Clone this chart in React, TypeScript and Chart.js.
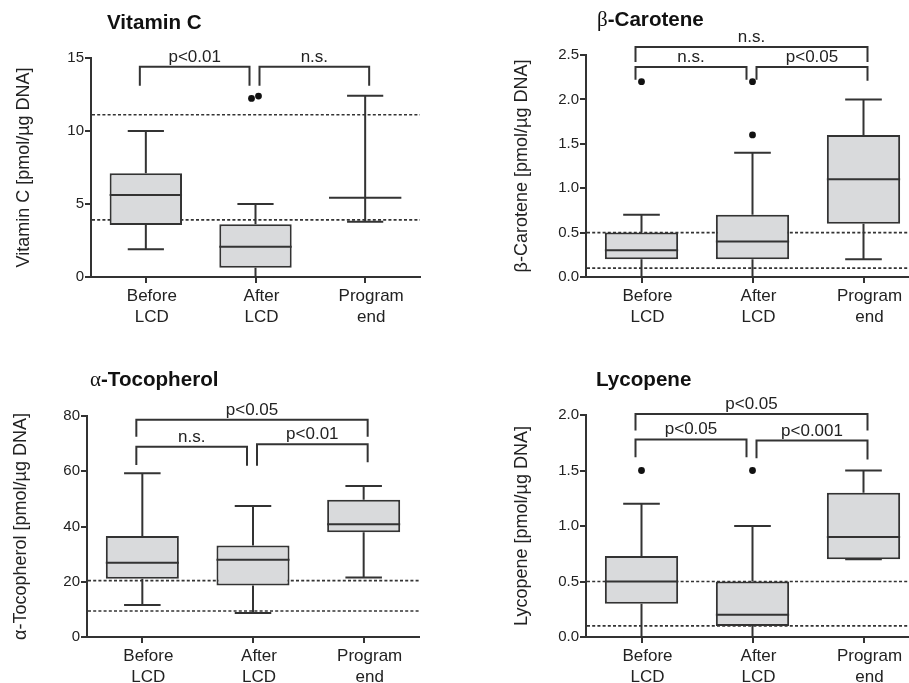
import React, { useEffect, useRef } from "react";
import { Chart, registerables } from "chart.js";

Chart.register(...registerables);

// ---------- data ----------
const categories = [["Before", "LCD"], ["After", "LCD"], ["Program", "end"]];

const titles = ["Vitamin C", "β-Carotene", "α-Tocopherol", "Lycopene"];
const yTitles = [
  "Vitamin C [pmol/µg DNA]",
  "β-Carotene [pmol/µg DNA]",
  "α-Tocopherol [pmol/µg DNA]",
  "Lycopene [pmol/µg DNA]",
];

// Vitamin C
const vitCMin = [1.9, 0, 3.79];
const vitCQ1 = [3.57, 0.64, 5.42];
const vitCMedian = [5.62, 2.08, 5.42];
const vitCQ3 = [7.11, 3.61, 5.42];
const vitCMax = [10.0, 5.0, 12.41];
const vitCOutliers = [[], [12.23, 12.39], []];
const vitCRefLines = [11.11, 3.91];
const vitCTickValues = [0, 5, 10, 15];
const vitCTickLabels = ["0", "5", "10", "15"];
const vitCBrackets = [
  { from: 0, to: 1, top: 14.4, leftEnd: 13.1, rightEnd: 13.1, label: "p<0.01" },
  { from: 1, to: 2, top: 14.4, leftEnd: 13.1, rightEnd: 13.1, label: "n.s." },
];

// beta-Carotene
const betaMin = [0, 0, 0.2];
const betaQ1 = [0.2, 0.2, 0.6];
const betaMedian = [0.3, 0.4, 1.1];
const betaQ3 = [0.5, 0.7, 1.6];
const betaMax = [0.7, 1.4, 2.0];
const betaOutliers = [[2.2], [1.6, 2.2], []];
const betaRefLines = [0.5, 0.1];
const betaTickValues = [0, 0.5, 1.0, 1.5, 2.0, 2.5];
const betaTickLabels = ["0.0", "0.5", "1.0", "1.5", "2.0", "2.5"];
const betaBrackets = [
  { from: 0, to: 2, top: 2.59, leftEnd: 2.42, rightEnd: 2.42, label: "n.s." },
  { from: 0, to: 1, top: 2.365, leftEnd: 2.22, rightEnd: 2.22, label: "n.s." },
  { from: 1, to: 2, top: 2.365, leftEnd: 2.22, rightEnd: 2.21, label: "p<0.05" },
];

// alpha-Tocopherol
const tocoMin = [11.6, 8.7, 21.5];
const tocoQ1 = [21.1, 18.6, 37.9];
const tocoMedian = [26.9, 28.0, 40.8];
const tocoQ3 = [36.6, 33.1, 49.7];
const tocoMax = [59.3, 47.4, 54.7];
const tocoOutliers = [[], [], []];
const tocoRefLines = [20.4, 9.4];
const tocoTickValues = [0, 20, 40, 60, 80];
const tocoTickLabels = ["0", "20", "40", "60", "80"];
const tocoBrackets = [
  { from: 0, to: 2, top: 78.6, leftEnd: 72.5, rightEnd: 72.5, label: "p<0.05" },
  { from: 0, to: 1, top: 68.9, leftEnd: 62.3, rightEnd: 62.0, label: "n.s." },
  { from: 1, to: 2, top: 69.8, leftEnd: 62.0, rightEnd: 63.3, label: "p<0.01" },
];

// Lycopene
const lycoMin = [0, 0, 0.7];
const lycoQ1 = [0.3, 0.1, 0.7];
const lycoMedian = [0.5, 0.2, 0.9];
const lycoQ3 = [0.73, 0.5, 1.3];
const lycoMax = [1.2, 1.0, 1.5];
const lycoOutliers = [[1.5], [1.5], []];
const lycoRefLines = [0.5, 0.1];
const lycoTickValues = [0, 0.5, 1.0, 1.5, 2.0];
const lycoTickLabels = ["0.0", "0.5", "1.0", "1.5", "2.0"];
const lycoBrackets = [
  { from: 0, to: 2, top: 2.01, leftEnd: 1.86, rightEnd: 1.86, label: "p<0.05" },
  { from: 0, to: 1, top: 1.78, leftEnd: 1.62, rightEnd: 1.62, label: "p<0.05" },
  { from: 1, to: 2, top: 1.77, leftEnd: 1.61, rightEnd: 1.6, label: "p<0.001" },
];

// ---------- styling / layout ----------
const SANS = '"Liberation Sans", Arial, Helvetica, sans-serif';
const SERIF = '"Liberation Serif", "Times New Roman", serif';
const LINE = "#333333";
const TEXT = "#222222";
const FILL = "#d9dadc";
const LW = 2;
const Y_TITLE_SIZE = 18;

type Panel = {
  x: number; y: number; w: number; h: number;
  left: number; right: number; top: number; bottom: number;
  yTitleX: number; titleX: number; titleY: number;
};

const layouts: Panel[] = [
  { x: 0, y: 0, w: 454, h: 340, left: 91, right: 420, top: 58, bottom: 277, yTitleX: 24, titleX: 107, titleY: 29 },
  { x: 454, y: 0, w: 470, h: 340, left: 132, right: 465, top: 55, bottom: 277, yTitleX: 68, titleX: 143, titleY: 26 },
  { x: 0, y: 340, w: 454, h: 343, left: 87, right: 419, top: 76, bottom: 297, yTitleX: 21, titleX: 90, titleY: 46 },
  { x: 454, y: 340, w: 470, h: 343, left: 132, right: 465, top: 75, bottom: 297, yTitleX: 68, titleX: 142, titleY: 46 },
];

const panelData = [
  { min: vitCMin, q1: vitCQ1, med: vitCMedian, q3: vitCQ3, max: vitCMax, out: vitCOutliers, refs: vitCRefLines, tv: vitCTickValues, tl: vitCTickLabels, br: vitCBrackets },
  { min: betaMin, q1: betaQ1, med: betaMedian, q3: betaQ3, max: betaMax, out: betaOutliers, refs: betaRefLines, tv: betaTickValues, tl: betaTickLabels, br: betaBrackets },
  { min: tocoMin, q1: tocoQ1, med: tocoMedian, q3: tocoQ3, max: tocoMax, out: tocoOutliers, refs: tocoRefLines, tv: tocoTickValues, tl: tocoTickLabels, br: tocoBrackets },
  { min: lycoMin, q1: lycoQ1, med: lycoMedian, q3: lycoQ3, max: lycoMax, out: lycoOutliers, refs: lycoRefLines, tv: lycoTickValues, tl: lycoTickLabels, br: lycoBrackets },
];

const boxPlugin = {
  id: "boxplot",
  beforeDatasetsDraw(chart: any, _a: any, opts: any) {
    const { ctx, chartArea } = chart;
    const y = chart.scales.y;
    ctx.save();
    ctx.setLineDash([3, 2.2]);
    ctx.lineWidth = 1.6;
    ctx.strokeStyle = LINE;
    for (const v of opts.refs) {
      const py = y.getPixelForValue(v);
      ctx.beginPath();
      ctx.moveTo(chartArea.left + 1, py);
      ctx.lineTo(chartArea.right, py);
      ctx.stroke();
    }
    ctx.restore();
  },
  afterDatasetsDraw(chart: any, _a: any, opts: any) {
    const { ctx } = chart;
    const y = chart.scales.y;
    const meta = chart.getDatasetMeta(0);
    ctx.save();
    ctx.strokeStyle = LINE;
    ctx.lineWidth = LW;
    ctx.setLineDash([]);
    const range = y.max - y.min;
    meta.data.forEach((bar: any, i: number) => {
      const cx = bar.x;
      const w = bar.width;
      const pMin = y.getPixelForValue(opts.min[i]);
      const pQ1 = y.getPixelForValue(opts.q1[i]);
      const pMed = y.getPixelForValue(opts.med[i]);
      const pQ3 = y.getPixelForValue(opts.q3[i]);
      const pMax = y.getPixelForValue(opts.max[i]);
      ctx.beginPath();
      // upper whisker
      ctx.moveTo(cx, pQ3);
      ctx.lineTo(cx, pMax);
      ctx.moveTo(cx - w / 4, pMax);
      ctx.lineTo(cx + w / 4, pMax);
      // lower whisker
      ctx.moveTo(cx, pQ1);
      ctx.lineTo(cx, pMin);
      ctx.moveTo(cx - w / 4, pMin);
      ctx.lineTo(cx + w / 4, pMin);
      // median
      ctx.moveTo(cx - w / 2, pMed);
      ctx.lineTo(cx + w / 2, pMed);
      ctx.stroke();
      // outliers
      const outs: number[] = opts.out[i];
      ctx.fillStyle = "#111";
      outs.forEach((v, j) => {
        const close = outs.filter((o) => Math.abs(o - v) < range * 0.03).length > 1;
        const dx = close ? (j % 2 === 0 ? -4 : 3) : 0;
        ctx.beginPath();
        ctx.arc(cx + dx, y.getPixelForValue(v), 3.4, 0, Math.PI * 2);
        ctx.fill();
      });
    });
    ctx.restore();
  },
  afterDraw(chart: any, _a: any, opts: any) {
    const { ctx } = chart;
    const x = chart.scales.x;
    const y = chart.scales.y;
    ctx.save();
    ctx.strokeStyle = LINE;
    ctx.lineWidth = LW;
    ctx.fillStyle = TEXT;
    ctx.font = `17px ${SANS}`;
    ctx.textAlign = "center";
    ctx.textBaseline = "alphabetic";
    for (const b of opts.br) {
      const xl = x.getPixelForValue(b.from) + (b.from === 0 ? -6 : 4);
      const xr = x.getPixelForValue(b.to) + (b.to === 1 ? -6 : 4);
      const pt = y.getPixelForValue(b.top);
      ctx.beginPath();
      ctx.moveTo(xl, y.getPixelForValue(b.leftEnd));
      ctx.lineTo(xl, pt);
      ctx.lineTo(xr, pt);
      ctx.lineTo(xr, y.getPixelForValue(b.rightEnd));
      ctx.stroke();
      ctx.fillText(b.label, (xl + xr) / 2, pt - 5);
    }
    // panel title (Greek prefix drawn in serif)
    const t: string = opts.title;
    let tx = opts.titleX;
    ctx.textAlign = "left";
    ctx.fillStyle = "#111";
    const first = t.charAt(0);
    let rest = t;
    if (first === "β" || first === "α") {
      ctx.font = `21px ${SERIF}`;
      ctx.fillText(first, tx, opts.titleY);
      tx += ctx.measureText(first).width;
      rest = t.slice(1);
    }
    ctx.font = `bold 20.6px ${SANS}`;
    ctx.fillText(rest, tx, opts.titleY);
    ctx.restore();
  },
};

function BoxPanel({ idx }: { idx: number }) {
  const ref = useRef<HTMLCanvasElement | null>(null);
  const g = layouts[idx];
  const d = panelData[idx];
  useEffect(() => {
    if (!ref.current) return;
    const tickVals = d.tv;
    const tickLabels = d.tl;
    const chart = new Chart(ref.current, {
      type: "bar",
      data: {
        labels: categories as any,
        datasets: [
          {
            data: d.q1.map((v, i) => [v, d.q3[i]]) as any,
            backgroundColor: FILL,
            borderColor: LINE,
            borderWidth: LW,
            borderSkipped: false,
            barPercentage: 0.66,
            categoryPercentage: 1,
          },
        ],
      },
      options: {
        animation: false,
        responsive: false,
        maintainAspectRatio: false,
        layout: { padding: { left: 0, right: g.w - g.right, top: g.top, bottom: 0 } },
        plugins: {
          legend: { display: false },
          tooltip: { enabled: false },
          boxplot: {
            min: d.min, q1: d.q1, med: d.med, q3: d.q3, max: d.max, out: d.out,
            refs: d.refs, br: d.br, title: titles[idx], titleX: g.titleX, titleY: g.titleY,
          },
        } as any,
        scales: {
          x: {
            type: "category",
            offset: true,
            grid: { display: true, drawOnChartArea: false, drawTicks: true, tickLength: 6, color: LINE, lineWidth: LW, offset: false },
            border: { display: true, color: LINE, width: LW },
            ticks: {
              color: TEXT,
              font: { family: SANS, size: 17, lineHeight: 1.23 },
              padding: 3,
              labelOffset: 6,
              maxRotation: 0,
              autoSkip: false,
            },
            afterFit: (s: any) => { s.height = g.h - g.bottom; },
          },
          y: {
            type: "linear",
            min: tickVals[0],
            max: tickVals[tickVals.length - 1],
            grid: { display: true, drawOnChartArea: false, drawTicks: true, tickLength: 6, color: LINE, lineWidth: LW },
            border: { display: true, color: LINE, width: LW },
            ticks: {
              color: TEXT,
              font: { family: SANS, size: 15 },
              padding: 1,
              callback: (_v: any, i: number) => tickLabels[i],
            },
            afterBuildTicks: (s: any) => { s.ticks = tickVals.map((v) => ({ value: v })); },
            title: {
              display: true,
              text: yTitles[idx],
              color: TEXT,
              font: { family: SANS, size: Y_TITLE_SIZE },
              padding: { top: g.yTitleX - (Y_TITLE_SIZE * 1.2) / 2, bottom: 0 },
            },
            afterFit: (s: any) => { s.width = g.left; },
          },
        },
      },
      plugins: [boxPlugin],
    } as any);
    return () => chart.destroy();
  }, []);
  return (
    <canvas
      ref={ref}
      width={g.w}
      height={g.h}
      style={{ position: "absolute", left: g.x, top: g.y, width: g.w, height: g.h }}
    />
  );
}

export default function App() {
  return (
    <div style={{ position: "fixed", left: 0, top: 0, width: 909, height: 683, overflow: "hidden", background: "#fff" }}>
      {layouts.map((_, i) => (
        <BoxPanel key={i} idx={i} />
      ))}
    </div>
  );
}
